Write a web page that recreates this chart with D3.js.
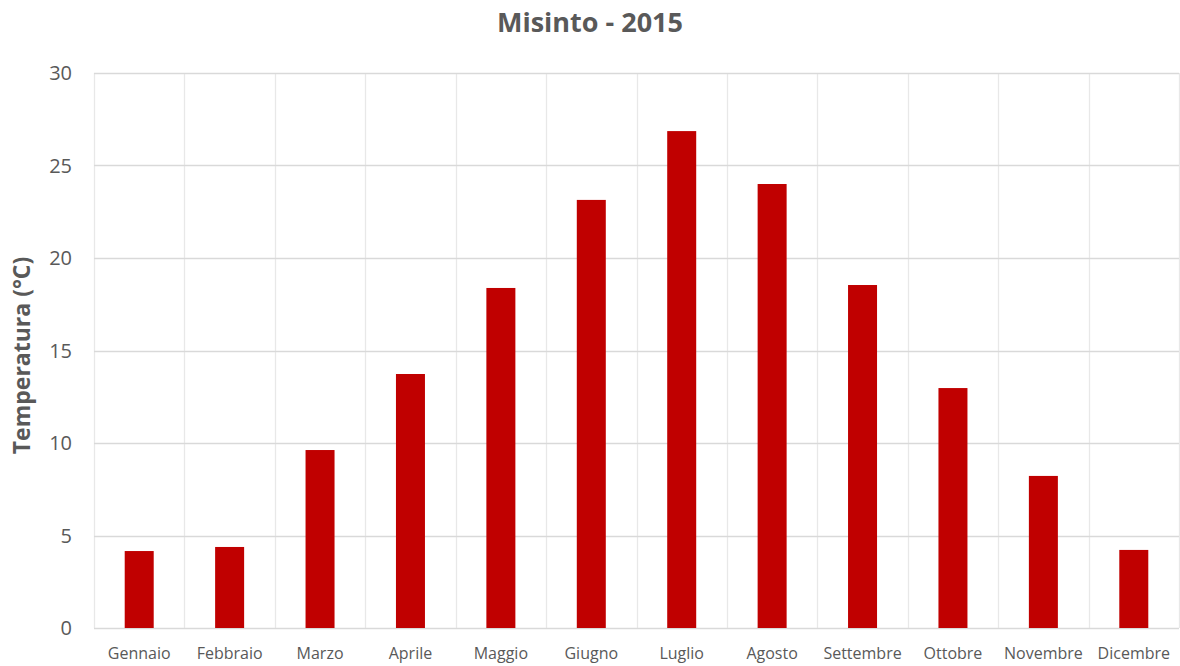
<!DOCTYPE html>
<html>
<head>
<meta charset="utf-8">
<script src="https://cdn.jsdelivr.net/npm/d3@7"></script>
<style>
body { margin: 0; background: #fff; }
text { font-family: "Open Sans", "Noto Sans", sans-serif; fill: #595959; }
</style>
</head>
<body>
<div id="graph"></div>
<script>
var months = ["Gennaio","Febbraio","Marzo","Aprile","Maggio","Giugno","Luglio","Agosto","Settembre","Ottobre","Novembre","Dicembre"]
var temps = [4.16, 4.38, 9.62, 13.73, 18.38, 23.14, 26.86, 24.0, 18.54, 12.97, 8.22, 4.22]
var yTicks = [0, 5, 10, 15, 20, 25, 30]

var width = 1180, height = 666
var margin = {top: 73, left: 94, right: 1, bottom: 38}

var svg = d3.select("#graph").append("svg")
	.attr("width", width).attr("height", height)

var x = d3.scaleBand().domain(months).range([margin.left, width - margin.right]).paddingInner(0).paddingOuter(0)
var y = d3.scaleLinear().domain([0, 30]).range([height - margin.bottom, margin.top])

// vertical category gridlines
svg.append("g").selectAll("line")
	.data(months.slice(1).concat(["_end"]))
	.enter().append("line")
	.attr("x1", function(d, i){ return Math.round(x.range()[0] + (i + 1) * x.step()) + 0.5 })
	.attr("x2", function(d, i){ return Math.round(x.range()[0] + (i + 1) * x.step()) + 0.5 })
	.attr("y1", y(30)).attr("y2", y(0))
	.attr("stroke", "#e8e8e8").attr("stroke-width", 1.3)
svg.append("line")
	.attr("x1", margin.left + 0.5).attr("x2", margin.left + 0.5)
	.attr("y1", y(30)).attr("y2", y(0))
	.attr("stroke", "#e8e8e8").attr("stroke-width", 1.3)

// horizontal gridlines
svg.append("g").selectAll("line")
	.data(yTicks)
	.enter().append("line")
	.attr("x1", margin.left).attr("x2", width - margin.right)
	.attr("y1", function(d){ return Math.round(y(d)) + 0.5 })
	.attr("y2", function(d){ return Math.round(y(d)) + 0.5 })
	.attr("stroke", "#d9d9d9").attr("stroke-width", 1.3)

// bars
var barW = 29
svg.append("g").selectAll("rect")
	.data(temps)
	.enter().append("rect")
	.attr("x", function(d, i){ return x(months[i]) + x.bandwidth() / 2 - barW / 2 })
	.attr("y", function(d){ return y(d) })
	.attr("width", barW)
	.attr("height", function(d){ return y(0) - y(d) })
	.attr("fill", "#c00000")

// y tick labels
svg.append("g").selectAll("text")
	.data(yTicks)
	.enter().append("text")
	.attr("x", 72).attr("y", function(d){ return y(d) })
	.attr("dy", "0.35em")
	.attr("text-anchor", "end")
	.style("font-size", "20px")
	.text(function(d){ return d })

// x labels
svg.append("g").selectAll("text")
	.data(months)
	.enter().append("text")
	.attr("x", function(d){ return x(d) + x.bandwidth() / 2 })
	.attr("y", 659)
	.attr("text-anchor", "middle")
	.style("font-size", "16px")
	.text(function(d){ return d })

// title
svg.append("text")
	.attr("x", 590).attr("y", 32)
	.attr("text-anchor", "middle")
	.style("font-size", "27px").style("font-weight", "bold")
	.text("Misinto - 2015")

// y axis title
svg.append("text")
	.attr("transform", "translate(30," + ((y(0) + y(30)) / 2 + 5) + ") rotate(-90)")
	.attr("text-anchor", "middle")
	.style("font-size", "23px").style("font-weight", "bold")
	.text("Temperatura (°C)")
</script>
</body>
</html>
